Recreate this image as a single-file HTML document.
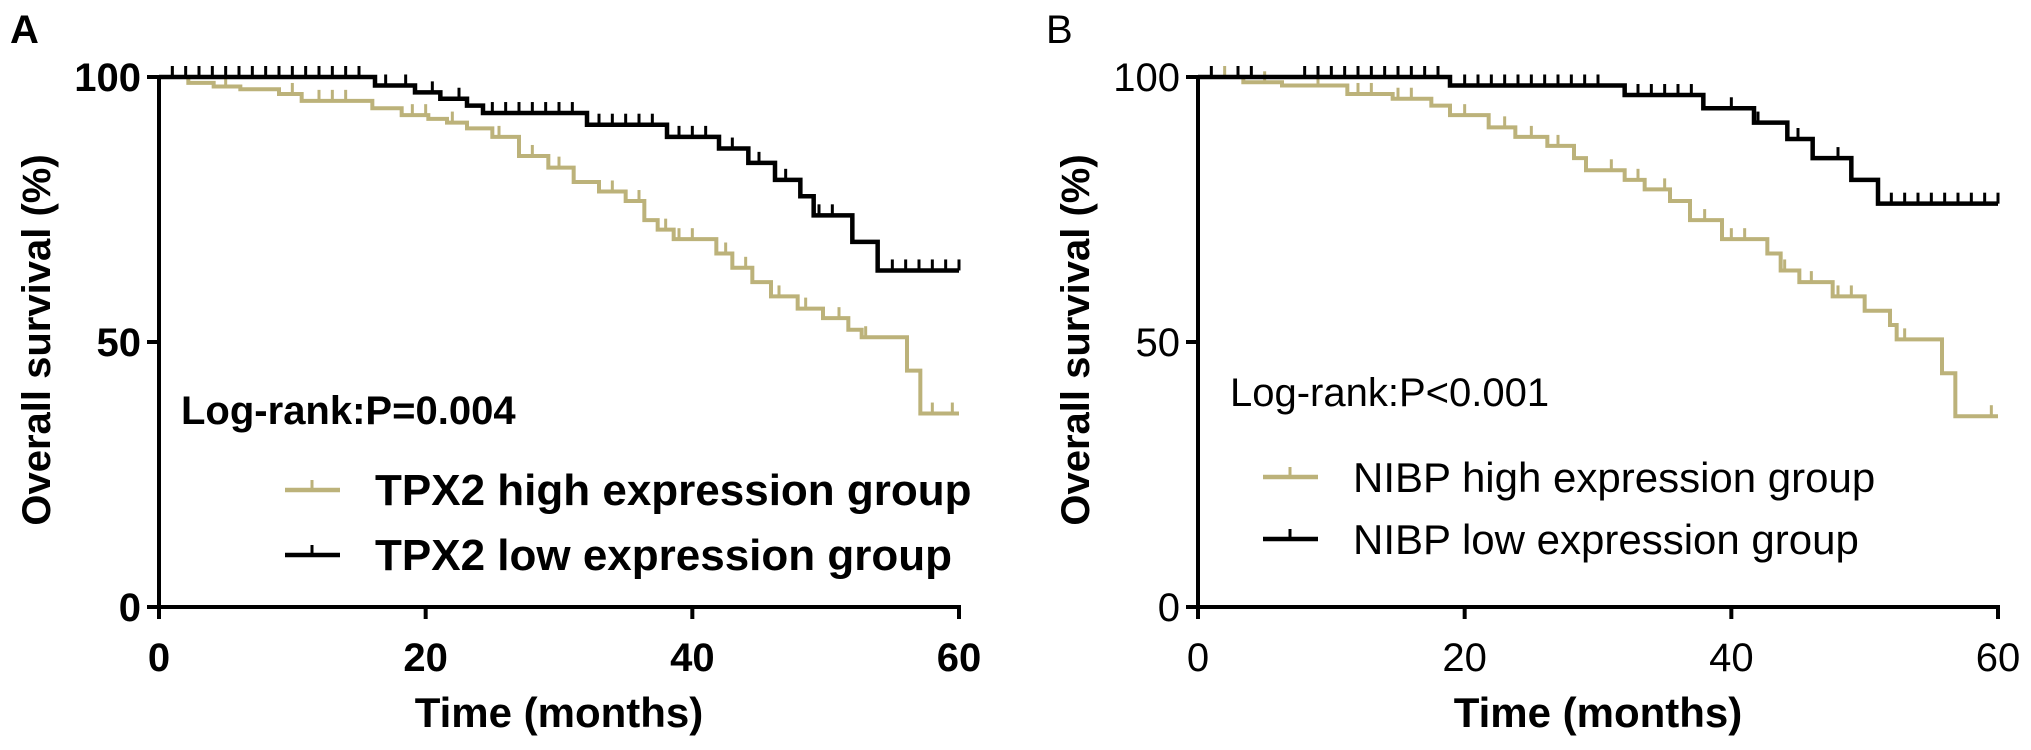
<!DOCTYPE html>
<html><head><meta charset="utf-8">
<style>
html,body{margin:0;padding:0;background:#fff;}
svg{display:block;font-family:"Liberation Sans",Arial,sans-serif;}
</style></head>
<body>
<svg id="fig" width="2031" height="750" viewBox="0 0 2031 750" xmlns="http://www.w3.org/2000/svg">
  <text x="10" y="43" font-size="40" font-weight="bold">A</text>
  <text x="1046" y="43" font-size="40">B</text>
</svg>
<script>
// ---- Panel A data ----
const aHighTimes = [0, 2.2, 4.1, 6.1, 9.0, 10.7, 16.0, 18.2, 20.2, 21.6, 23.1, 25.0, 27.0, 29.2, 31.1, 33.0, 35.0, 36.4, 37.4, 38.6, 41.8, 43.0, 44.5, 45.9, 47.9, 49.8, 51.7, 52.7, 56.1, 57.1];
const aHighSurv  = [100, 98.9, 98.2, 97.7, 96.8, 95.5, 94.1, 92.8, 92.1, 91.4, 90.3, 88.7, 85.1, 82.9, 80.2, 78.4, 76.6, 73.0, 71.2, 69.4, 66.7, 64.0, 61.3, 58.6, 56.3, 54.5, 52.3, 50.9, 44.6, 36.5];
const aHighCensor = [1, 5, 10, 12, 13, 14, 19, 20, 22, 25.5, 28, 30, 34, 36, 38, 39, 40, 42.5, 44, 46.5, 48.5, 51, 53, 58, 59.5];
const aLowTimes = [0, 16.2, 19.2, 21.1, 23.1, 24.3, 32.1, 38.1, 42.0, 44.2, 46.2, 48.1, 49.1, 52.0, 53.9];
const aLowSurv  = [100, 98.4, 97.1, 95.9, 94.6, 93.2, 91.0, 88.7, 86.5, 83.8, 80.6, 77.5, 73.9, 68.9, 63.5];
const aLowCensor = [1, 2, 3, 4, 5, 6, 7, 8, 9, 10, 11, 12, 13, 14, 15, 17, 18.5, 20.5, 22.5, 25, 26, 27, 28, 29, 30, 31, 33, 34, 35, 36, 37, 39, 40, 41, 43, 45, 47, 49.5, 50.5, 55, 56, 57, 58, 59, 60];
// ---- Panel B data ----
const bHighTimes = [0, 3.4, 6.3, 11.2, 14.6, 17.5, 18.9, 21.8, 23.8, 26.2, 28.2, 29.1, 32.0, 33.5, 35.4, 36.9, 39.3, 42.7, 43.7, 45.1, 47.6, 50.0, 51.9, 52.4, 55.8, 56.8];
const bHighSurv  = [100, 99.0, 98.4, 96.8, 95.9, 94.6, 92.8, 90.5, 88.7, 87.0, 84.7, 82.4, 80.6, 78.8, 76.6, 73.0, 69.4, 66.7, 63.5, 61.3, 58.6, 55.9, 53.2, 50.5, 44.1, 36.0];
const bHighCensor = [2, 5, 9, 12, 13, 15, 16, 20, 23, 25, 27, 31, 33, 35, 38, 40, 41, 44, 46, 48, 49, 53, 59.5];
const bLowTimes = [0, 18.9, 32.0, 37.9, 41.7, 44.2, 46.1, 49.0, 51.0];
const bLowSurv  = [100, 98.4, 96.6, 94.1, 91.4, 88.3, 84.7, 80.6, 76.1];
const bLowCensor = [1, 3, 4, 8, 9, 10, 11, 12, 13, 14, 15, 16, 17, 18, 20, 21, 22, 23, 24, 25, 26, 27, 28, 29, 30, 33, 34, 35, 36, 37, 40, 42, 45, 48, 52, 53, 54, 55, 56, 57, 58, 59, 60];
const xTicks = [0, 20, 40, 60];
const yTicks = [0, 50, 100];

const NS = "http://www.w3.org/2000/svg";
const svg = document.getElementById('fig');
function mk(tag, attrs, parent){
  const e = document.createElementNS(NS, tag);
  for (const k in attrs) e.setAttribute(k, attrs[k]);
  (parent||svg).appendChild(e);
  return e;
}
const TAN = "#bcb27a";

function panel(cfg){
  const x0 = cfg.x0, x1 = cfg.x0 + 800, yTop = 77, yBot = 607;
  const xs = t => x0 + t / 60 * (x1 - x0);
  const ys = v => yBot - v / 100 * (yBot - yTop);
  const g = mk('g', {});
  
  
  const fw = cfg.bold ? 'bold' : 'normal';

  const ya = mk('line', {x1: x0, y1: yTop - 2, x2: x0, y2: yBot, stroke: '#000', 'stroke-width': 4}, g);
  
  
  const xa = mk('line', {x1: x0 - 2, y1: yBot, x2: x1 + 2, y2: yBot, stroke: '#000', 'stroke-width': 4}, g);
  
  

  xTicks.forEach(t => {
    const x = xs(t);
    const tk = mk('line', {x1: x, y1: yBot, x2: x, y2: yBot + 12, stroke: '#000', 'stroke-width': 4}, g);
    
    
    const lb = mk('text', {x: x, y: yBot + 64, 'font-size': 40, 'font-weight': fw, 'text-anchor': 'middle'}, g);
    lb.textContent = t;
    
    
  });
  yTicks.forEach(v => {
    const y = ys(v);
    const tk = mk('line', {x1: x0 - 12, y1: y, x2: x0, y2: y, stroke: '#000', 'stroke-width': 4}, g);
    
    
    const lb = mk('text', {x: x0 - 18, y: y + 14, 'font-size': 40, 'font-weight': fw, 'text-anchor': 'end'}, g);
    lb.textContent = v;
    
    
  });

  const xt = mk('text', {x: (x0 + x1) / 2, y: 727, 'font-size': 42, 'font-weight': 'bold', 'text-anchor': 'middle'}, g);
  xt.textContent = 'Time (months)';
  
  
  const yt = mk('text', {x: 0, y: 0, 'font-size': 40, 'font-weight': 'bold', 'text-anchor': 'middle', transform: `translate(${x0 - 109},340) rotate(-90)`}, g);
  yt.textContent = 'Overall survival (%)';
  
  

  function curve(times, surv, cens, color, width, name){
    let d = `M${xs(times[0])},${ys(surv[0])}`;
    for (let i = 1; i < times.length; i++){
      d += ` H${xs(times[i])} V${ys(surv[i])}`;
    }
    d += ` H${xs(60)}`;
    const p = mk('path', {d: d, fill: 'none', stroke: color, 'stroke-width': width, 'stroke-linejoin': 'miter'}, g);
    
    
    cens.forEach(c => {
      let s = surv[0];
      for (let i = 0; i < times.length; i++) if (times[i] <= c) s = surv[i];
      const m = mk('line', {x1: xs(c), y1: ys(s), x2: xs(c), y2: ys(s) - 11, stroke: color, 'stroke-width': 3}, g);
      
      
    });
  }
  curve(cfg.hiT, cfg.hiS, cfg.hiC, TAN, 4, 'high-expression');
  curve(cfg.loT, cfg.loS, cfg.loC, '#000', 4.5, 'low-expression');

  const lr = mk('text', {x: cfg.lrX, y: cfg.lrY, 'font-size': 40, 'font-weight': fw}, g);
  lr.textContent = cfg.lrText;
  
  

  [[cfg.legHi, TAN, cfg.legY1, 'legend-entry-high'], [cfg.legLo, '#000', cfg.legY2, 'legend-entry-low']].forEach(le => {
    const lg = mk('g', {}, g);
    
    
    mk('line', {x1: cfg.legX, y1: le[2], x2: cfg.legX + 55, y2: le[2], stroke: le[1], 'stroke-width': 4.5}, lg);
    mk('line', {x1: cfg.legX + 27, y1: le[2], x2: cfg.legX + 27, y2: le[2] - 10, stroke: le[1], 'stroke-width': 3}, lg);
    const t = mk('text', {x: cfg.legX + 90, y: le[2] + 15, 'font-size': cfg.legFs, 'font-weight': fw}, lg);
    t.textContent = le[0];
  });
}

panel({key: 'panel-a', x0: 159, bold: true,
  hiT: aHighTimes, hiS: aHighSurv, hiC: aHighCensor,
  loT: aLowTimes, loS: aLowSurv, loC: aLowCensor,
  lrText: 'Log-rank:P=0.004', lrX: 181, lrY: 424,
  legHi: 'TPX2 high expression group', legLo: 'TPX2 low expression group',
  legX: 285, legY1: 490, legY2: 555, legFs: 44});
panel({key: 'panel-b', x0: 1198, bold: false,
  hiT: bHighTimes, hiS: bHighSurv, hiC: bHighCensor,
  loT: bLowTimes, loS: bLowSurv, loC: bLowCensor,
  lrText: 'Log-rank:P<0.001', lrX: 1230, lrY: 406,
  legHi: 'NIBP high expression group', legLo: 'NIBP low expression group',
  legX: 1263, legY1: 477, legY2: 539, legFs: 42});
</script>
</body></html>
